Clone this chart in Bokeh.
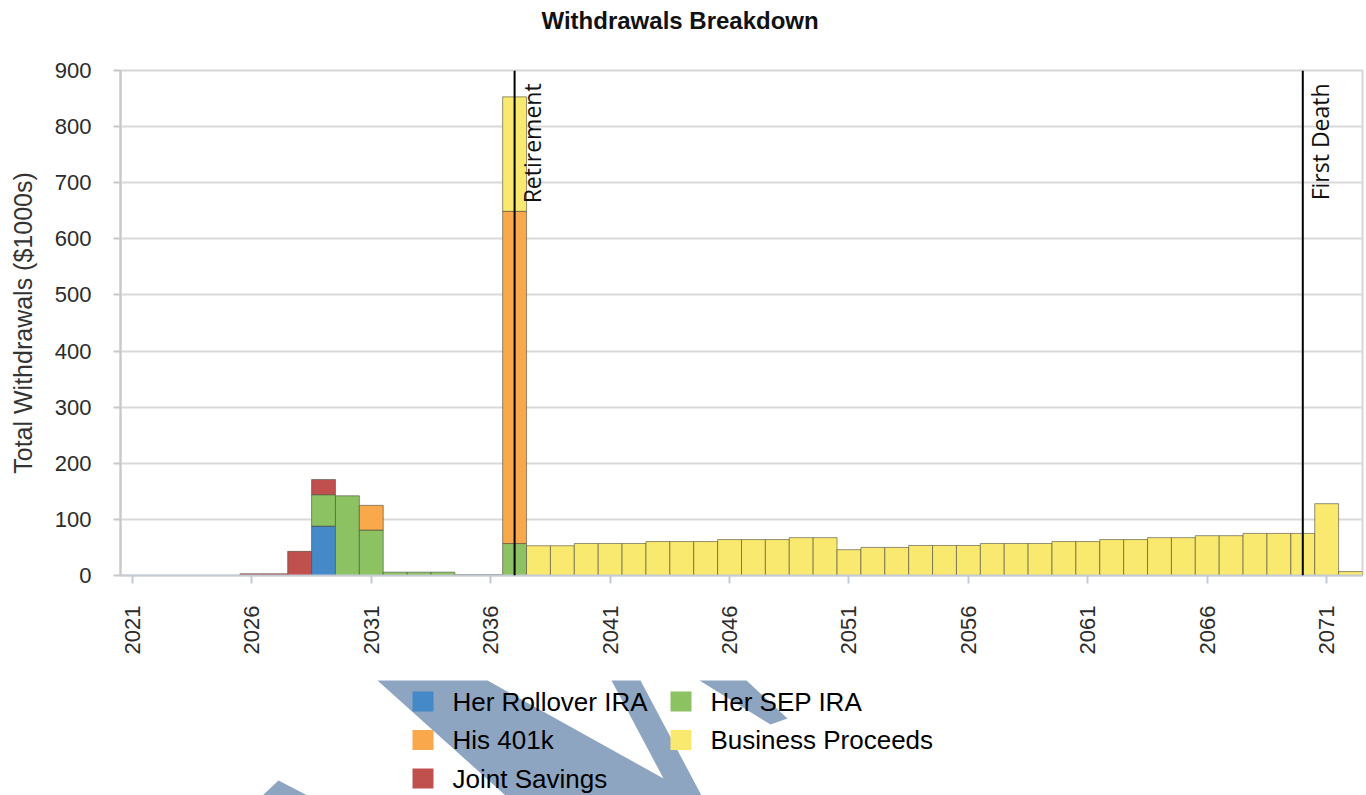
import numpy as np
from bokeh.plotting import figure
from bokeh.models import Range1d, FixedTicker, Span, Label, ColumnDataSource
from bokeh.layouts import column
from bokeh.embed import file_html
from bokeh.resources import INLINE
from bokeh.core.properties import value

# ---- data (withdrawals, $1000s) ----
years = list(range(2021, 2073))

her_rollover_ira = [
    0, 0, 0, 0, 0,          # 2021-2025
    0, 0, 0, 88, 0,         # 2026-2030
    0, 0, 0, 0, 0,          # 2031-2035
    0, 0, 0, 0, 0,          # 2036-2040
    0, 0, 0, 0, 0,          # 2041-2045
    0, 0, 0, 0, 0,          # 2046-2050
    0, 0, 0, 0, 0,          # 2051-2055
    0, 0, 0, 0, 0,          # 2056-2060
    0, 0, 0, 0, 0,          # 2061-2065
    0, 0, 0, 0, 0,          # 2066-2070
    0, 0,                   # 2071-2072
]
her_sep_ira = [
    0, 0, 0, 0, 0,
    0, 0, 0, 56, 142,
    81, 6, 6, 6, 1.5,
    1.5, 57, 0, 0, 0,
    0, 0, 0, 0, 0,
    0, 0, 0, 0, 0,
    0, 0, 0, 0, 0,
    0, 0, 0, 0, 0,
    0, 0, 0, 0, 0,
    0, 0, 0, 0, 0,
    0, 0,
]
his_401k = [
    0, 0, 0, 0, 0,
    0, 0, 0, 0, 0,
    44, 0, 0, 0, 0,
    0, 592, 0, 0, 0,
    0, 0, 0, 0, 0,
    0, 0, 0, 0, 0,
    0, 0, 0, 0, 0,
    0, 0, 0, 0, 0,
    0, 0, 0, 0, 0,
    0, 0, 0, 0, 0,
    0, 0,
]
business_proceeds = [
    0, 0, 0, 0, 0,
    0, 0, 0, 0, 0,
    0, 0, 0, 0, 0,
    0, 204, 53, 53, 57,
    57, 57, 60.5, 60.5, 60.5,
    64, 64, 64, 67.5, 67.5,
    46, 50, 50, 53.5, 53.5,
    53.5, 57, 57, 57, 60.5,
    60.5, 64, 64, 67.5, 67.5,
    71, 71, 75, 75, 75,
    128, 7,
]
joint_savings = [
    0, 0, 0, 0, 0,
    3, 3, 43, 27, 0,
    0, 0, 0, 0, 0,
    0, 0, 0, 0, 0,
    0, 0, 0, 0, 0,
    0, 0, 0, 0, 0,
    0, 0, 0, 0, 0,
    0, 0, 0, 0, 0,
    0, 0, 0, 0, 0,
    0, 0, 0, 0, 0,
    0, 0,
]

series_names = ["Her Rollover IRA", "Her SEP IRA", "His 401k",
                "Business Proceeds", "Joint Savings"]
series_values = [her_rollover_ira, her_sep_ira, his_401k,
                 business_proceeds, joint_savings]
series_colors = ["#4589C8", "#8DC263", "#F9A94B", "#F9E96E", "#C0504D"]

milestone_years = [2037, 2070]
milestone_labels = ["Retirement", "First Death"]

x_ticks = [2021, 2026, 2031, 2036, 2041, 2046, 2051, 2056, 2061, 2066, 2071]
y_ticks = [0, 100, 200, 300, 400, 500, 600, 700, 800, 900]

chart_title = "Withdrawals Breakdown"

TICK_FONT = "Liberation Sans"
W = 1366
LEFT, RIGHT = 120, 4
HEAD_H, MAIN_H, FOOT_H = 40, 620, 135


def strip(height, y_top):
    """A bare figure whose data coordinates are page pixels."""
    f = figure(width=W, height=height,
               x_range=Range1d(LEFT, W - RIGHT),
               y_range=Range1d(y_top + height, y_top),
               output_backend="svg", toolbar_location=None,
               x_axis_location=None, y_axis_location=None,
               min_border=0, min_border_left=LEFT, min_border_right=RIGHT)
    f.outline_line_color = None
    f.grid.grid_line_color = None
    f.background_fill_color = "white"
    f.border_fill_color = "white"
    return f


# ---- title strip ----
head = strip(HEAD_H, 0)
head.text(x=[541], y=[20], text=[chart_title],
          text_font=value(TICK_FONT), text_font_size="24px",
          text_font_style="bold", text_color="#111111",
          text_align="left", text_baseline="middle")

# ---- main chart ----
p = figure(width=W, height=MAIN_H,
           x_range=Range1d(2020.5, 2072.5), y_range=Range1d(0, 900),
           output_backend="svg", toolbar_location=None,
           min_border_left=LEFT, min_border_right=RIGHT,
           min_border_top=30, min_border_bottom=85)
p.background_fill_color = "white"
p.border_fill_color = "white"
p.outline_line_color = "#d6d6d6"
p.outline_line_width = 2

# stacked bars, bottom-to-top in series order
bottoms = np.zeros(len(years))
for name, vals, color in zip(series_names, series_values, series_colors):
    vals = np.asarray(vals, dtype=float)
    mask = vals > 0
    src = ColumnDataSource(dict(
        x=np.asarray(years)[mask],
        bottom=bottoms[mask],
        top=(bottoms + vals)[mask],
    ))
    p.vbar(x="x", bottom="bottom", top="top", width=1.0, source=src,
           fill_color=color, line_color="#4d4d40", line_alpha=0.6,
           line_width=1)
    bottoms = bottoms + vals

# milestone markers
for yr, txt in zip(milestone_years, milestone_labels):
    p.add_layout(Span(location=yr, dimension="height",
                      line_color="black", line_width=2))
    p.add_layout(Label(x=yr, y=877, text=txt, angle=np.pi / 2,
                       x_offset=1, text_align="right", text_baseline="top",
                       text_font="Open Sans", text_font_size="23px",
                       text_color="#111111"))

# axes
p.xaxis.ticker = FixedTicker(ticks=x_ticks)
p.xaxis.major_label_orientation = np.pi / 2
p.xaxis.major_label_standoff = 22
p.xaxis.major_tick_in = 0
p.xaxis.major_tick_out = 8
p.xaxis.minor_tick_line_color = None
p.xaxis.axis_line_color = "#c5cbd6"
p.xaxis.axis_line_width = 2
p.xaxis.major_tick_line_color = "#c5cbd6"
p.xaxis.major_tick_line_width = 2

p.yaxis.ticker = FixedTicker(ticks=y_ticks)
p.yaxis.major_label_standoff = 22
p.yaxis.major_tick_in = 0
p.yaxis.major_tick_out = 7
p.yaxis.minor_tick_line_color = None
p.yaxis.axis_line_color = "#c8c8c8"
p.yaxis.axis_line_width = 2
p.yaxis.major_tick_line_color = "#c8c8c8"
p.yaxis.major_tick_line_width = 2
p.yaxis.axis_label = "Total Withdrawals ($1000s)"
p.yaxis.axis_label_text_font = TICK_FONT
p.yaxis.axis_label_text_font_size = "25px"
p.yaxis.axis_label_text_font_style = "normal"
p.yaxis.axis_label_text_color = "#333333"
p.yaxis.axis_label_standoff = 15

for ax in (p.xaxis, p.yaxis):
    ax.major_label_text_font = TICK_FONT
    ax.major_label_text_font_size = "22px"
    ax.major_label_text_color = "#2b2b2b"

p.xgrid.grid_line_color = None
p.ygrid.grid_line_color = "#d9d9d9"
p.ygrid.grid_line_width = 2

# ---- legend strip with the watermark behind it ----
foot = strip(FOOT_H, HEAD_H + MAIN_H)

mark_xs = [[377, 487, 663, 611, 640, 701, 505],
           [699, 746, 787, 770],
           [262, 278, 307]]
mark_ys = [[680, 680, 778, 680, 680, 795, 795],
           [680, 680, 718, 724],
           [795, 780, 795]]
foot.patches(xs=mark_xs, ys=mark_ys, fill_color="#8EA5C1", line_color=None)

n = len(series_names)
cols = [i % 2 for i in range(n)]
rows = [i // 2 for i in range(n)]
sq_left = [412 + c * 258 for c in cols]
row_y = [701 + r * 38.5 for r in rows]
foot.quad(left=sq_left, right=[v + 21 for v in sq_left],
          top=[v - 10 for v in row_y], bottom=[v + 10 for v in row_y],
          fill_color=series_colors, line_color=None)
foot.text(x=[v + 40 for v in sq_left], y=row_y, text=series_names,
          text_font=value(TICK_FONT), text_font_size="26px",
          text_baseline="middle", text_align="left", text_color="black")

layout = column(head, p, foot, spacing=0)
open("out.html", "w").write(file_html(layout, INLINE))
